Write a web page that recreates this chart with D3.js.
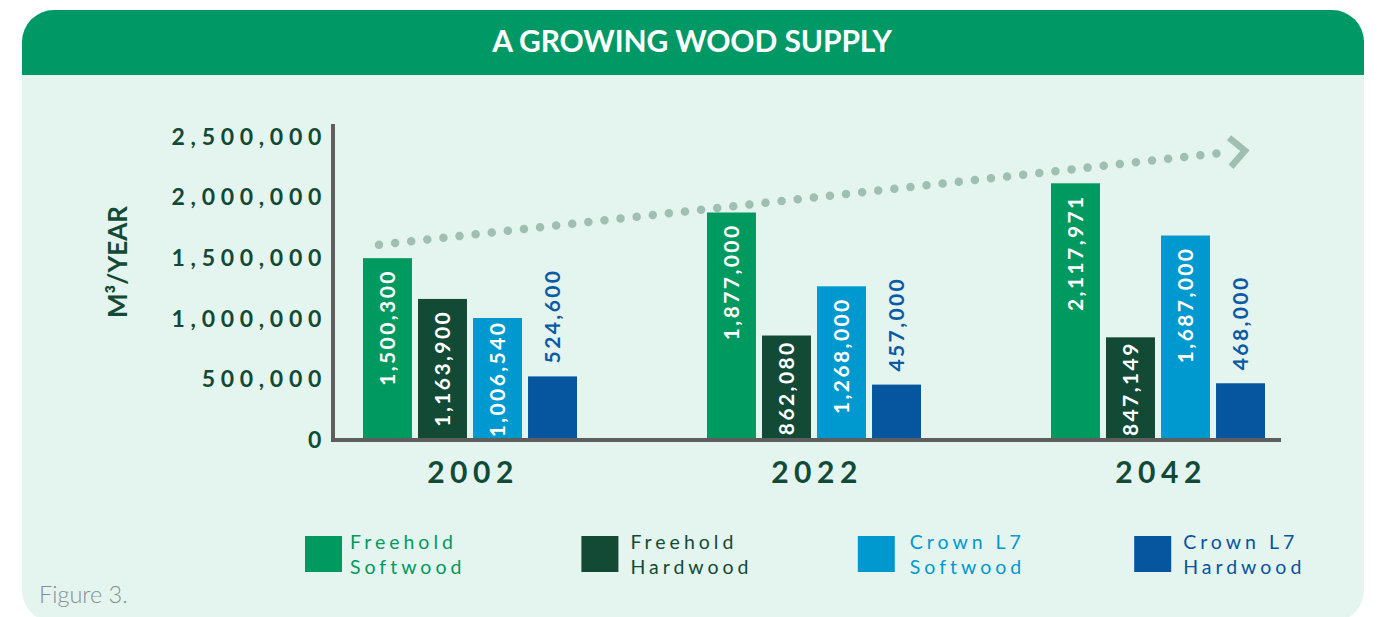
<!DOCTYPE html>
<html>
<head>
<meta charset="utf-8">
<script src="https://cdn.jsdelivr.net/npm/d3@7"></script>
<style>
  body { margin: 0; background: #fff; }
  svg { display: block; font-family: Lato, "Open Sans", sans-serif; }
</style>
</head>
<body>
<div id="chart"></div>
<script>
const years = ["2002", "2022", "2042"];
const seriesNames = ["Freehold Softwood", "Freehold Hardwood", "Crown L7 Softwood", "Crown L7 Hardwood"];
const freeholdSoftwood = [1500300, 1877000, 2117971];
const freeholdHardwood = [1163900, 862080, 847149];
const crownSoftwood = [1006540, 1268000, 1687000];
const crownHardwood = [524600, 457000, 468000];
const yTicks = [0, 500000, 1000000, 1500000, 2000000, 2500000];
const legendLines = [["Freehold", "Softwood"], ["Freehold", "Hardwood"], ["Crown L7", "Softwood"], ["Crown L7", "Hardwood"]];
const colors = ["#00995f", "#124a36", "#0099cf", "#05559f"];

const seriesValues = [freeholdSoftwood, freeholdHardwood, crownSoftwood, crownHardwood];
const data = years.map((yr, i) => ({
    year: yr,
    values: seriesNames.map((s, j) => ({ series: s, idx: j, value: seriesValues[j][i] }))
}));

const W = 1379, H = 617;
const darkGreen = "#124a36";
const axisGray = "#5e5e5e";
const dotColor = "#9ebfb1";

const svg = d3.select("#chart").append("svg")
    .attr("width", W)
    .attr("height", H);

// card background
svg.append("rect")
    .attr("x", 22).attr("y", 10)
    .attr("width", 1342).attr("height", 612)
    .attr("rx", 32)
    .attr("fill", "#e4f4ee");

// header with rounded top corners
const hx = 22, hy = 10, hw = 1342, hh = 65, r = 32;
svg.append("path")
    .attr("d", `M${hx},${hy + hh} V${hy + r} A${r},${r} 0 0 1 ${hx + r},${hy} H${hx + hw - r} A${r},${r} 0 0 1 ${hx + hw},${hy + r} V${hy + hh} Z`)
    .attr("fill", "#009966");

svg.append("text")
    .attr("x", 692)
    .attr("y", 52)
    .attr("text-anchor", "middle")
    .style("font-size", "30px")
    .style("font-weight", "700")
    .style("letter-spacing", "-0.1px")
    .style("fill", "#fff")
    .text("A GROWING WOOD SUPPLY");

// scales
const y = d3.scaleLinear().domain([0, 2500000]).range([440, 137]);
const x0 = d3.scaleBand().domain(years).range([298, 1330]).padding(0);
const x1 = d3.scaleBand().domain(seriesNames).range([0, 214]).paddingInner(0.11);
const color = d3.scaleOrdinal().domain(seriesNames).range(colors);

// trend arrow (dotted)
const ax1 = x0("2002") + x0.bandwidth() / 2 - 91, ay1 = y(1610000);
const ax2 = x0("2042") + x0.bandwidth() / 2 + 66, ay2 = y(2370000);
svg.append("line")
    .attr("x1", ax1).attr("y1", ay1)
    .attr("x2", ax2).attr("y2", ay2)
    .attr("stroke", dotColor)
    .attr("stroke-width", 8.5)
    .attr("stroke-linecap", "round")
    .attr("stroke-dasharray", "0 16.2");
svg.append("polyline")
    .attr("points", `${ax2 + 5},${ay2 - 15} ${ax2 + 21},${ay2 - 2} ${ax2 + 7},${ay2 + 14}`)
    .attr("fill", "none")
    .attr("stroke", dotColor)
    .attr("stroke-width", 6.5);

// bars
const groups = svg.selectAll(".group")
    .data(data)
    .enter().append("g")
    .attr("class", "group")
    .attr("transform", d => `translate(${x0(d.year) + x0.bandwidth() / 2 - 107},0)`);

groups.selectAll("rect")
    .data(d => d.values)
    .enter().append("rect")
    .attr("x", d => x1(d.series))
    .attr("y", d => y(d.value))
    .attr("width", x1.bandwidth())
    .attr("height", d => y(0) - y(d.value))
    .attr("fill", d => color(d.series));

groups.selectAll(".bar-label")
    .data(d => d.values)
    .enter().append("text")
    .attr("class", "bar-label")
    .attr("dy", "0.36em")
    .attr("text-anchor", d => d.idx === 3 ? "start" : "end")
    .style("font-size", "21px")
    .style("font-weight", "700")
    .style("letter-spacing", "2.4px")
    .style("fill", d => d.idx === 3 ? "#0a5aa6" : "#fff")
    .text(d => d3.format(",")(d.value))
    .attr("transform", function (d) {
        const cx = x1(d.series) + x1.bandwidth() / 2;
        let ty;
        if (d.idx === 3) {
            ty = y(d.value) - 13;
        } else {
            // keep label inside the bar, near its top
            const len = this.getComputedTextLength();
            const barH = y(0) - y(d.value);
            ty = y(d.value) + Math.min(11, Math.max(2, (barH - len) / 2));
        }
        return `translate(${cx},${ty}) rotate(-90)`;
    });

// y axis
const yAxis = svg.append("g")
    .attr("transform", "translate(333,0)")
    .call(d3.axisLeft(y).tickValues(yTicks).tickSize(0).tickPadding(6).tickFormat(d3.format(",")));
yAxis.select(".domain").remove();
yAxis.selectAll("text")
    .style("font-family", "Lato, sans-serif")
    .style("font-size", "23px")
    .style("font-weight", "700")
    .style("letter-spacing", "5.7px")
    .style("fill", darkGreen);

svg.append("line")
    .attr("x1", 333).attr("x2", 333)
    .attr("y1", 124).attr("y2", 442)
    .attr("stroke", axisGray).attr("stroke-width", 4);

// x axis
const xAxis = svg.append("g")
    .attr("transform", "translate(0,442)")
    .call(d3.axisBottom(x0).tickSize(0).tickPadding(20));
xAxis.select(".domain").remove();
xAxis.selectAll("text")
    .attr("dy", "0.71em")
    .attr("dx", "3px")
    .style("font-family", "Lato, sans-serif")
    .style("font-size", "30px")
    .style("font-weight", "700")
    .style("letter-spacing", "5.5px")
    .style("fill", darkGreen);

svg.append("line")
    .attr("x1", 331).attr("x2", 1281)
    .attr("y1", 440).attr("y2", 440)
    .attr("stroke", axisGray).attr("stroke-width", 4);

// y axis title
svg.append("text")
    .attr("transform", "translate(118,262) rotate(-90)")
    .attr("text-anchor", "middle")
    .attr("dy", "0.36em")
    .style("font-size", "26px")
    .style("font-weight", "700")
    .style("fill", darkGreen)
    .text("M³/YEAR");

// legend
const legendTextX = [45, 49, 52, 49];
const legend = svg.selectAll(".legend")
    .data(seriesNames)
    .enter().append("g")
    .attr("class", "legend")
    .attr("transform", (d, i) => `translate(${305 + i * 276.4},536)`);

legend.append("rect")
    .attr("width", 37).attr("height", 36)
    .attr("fill", d => color(d));

legend.append("text")
    .attr("x", (d, i) => legendTextX[i])
    .attr("y", 13)
    .style("font-size", "19.5px")
    .style("letter-spacing", "4px")
    .style("fill", d => color(d))
    .selectAll("tspan")
    .data((d, i) => legendLines[i])
    .enter().append("tspan")
    .attr("x", function () { return d3.select(this.parentNode).attr("x"); })
    .attr("dy", (d, i) => i === 0 ? 0 : 24.5)
    .text(d => d);

svg.append("text")
    .attr("x", 39)
    .attr("y", 603)
    .style("font-size", "23.5px")
    .style("font-weight", "300")
    .style("fill", "#8a8f8d")
    .text("Figure 3.");
</script>
</body>
</html>
